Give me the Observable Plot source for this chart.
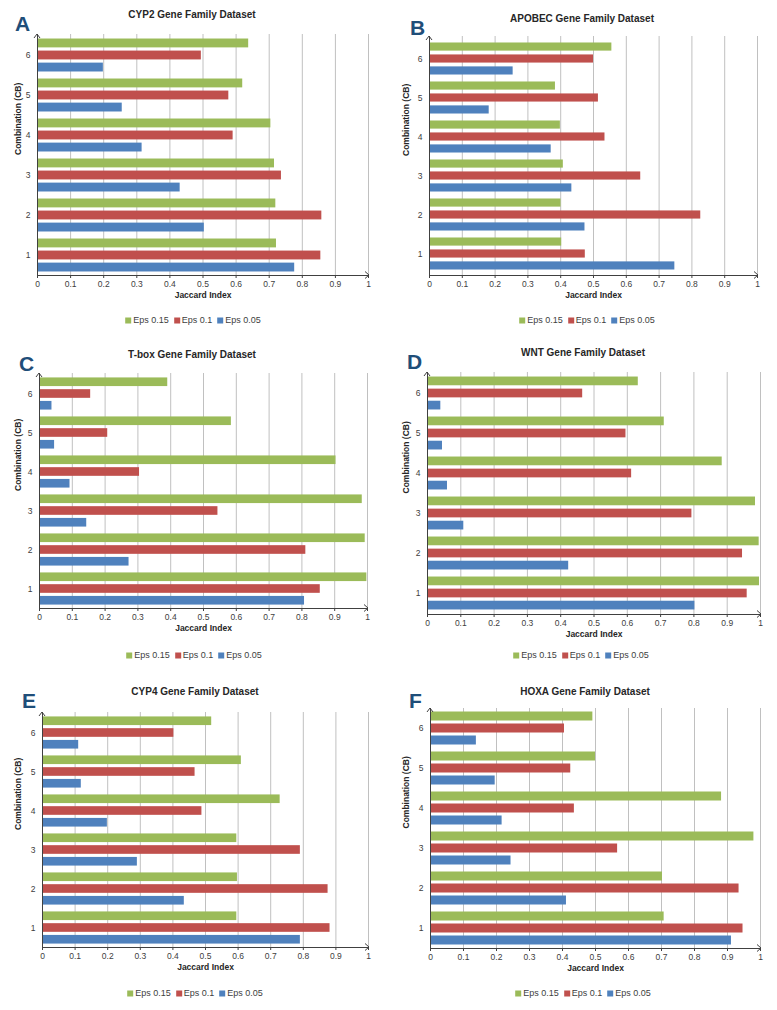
<!DOCTYPE html>
<html><head><meta charset="utf-8">
<script src="https://cdn.jsdelivr.net/npm/d3@7"></script>
<script src="https://cdn.jsdelivr.net/npm/@observablehq/plot@0.6"></script>
<style>
body{margin:0;background:#fff;font-family:"Liberation Sans",Arial,sans-serif;}
#root{position:relative;width:777px;height:1010px;overflow:hidden;background:#fff;}
.svgwrap{position:absolute;}
.title{position:absolute;font-weight:bold;font-size:10px;color:#262626;white-space:nowrap;line-height:1;transform:translate(-50%,-50%);}
.letter{position:absolute;font-weight:bold;font-size:21px;line-height:21px;color:#1F4E79;}
.legend{position:absolute;font-size:9px;line-height:1;color:#404040;display:flex;gap:5px;white-space:nowrap;transform:translate(-50%,-50%);align-items:center;}
.legend .item{display:flex;align-items:center;}
.sw{display:inline-block;width:6px;height:6px;margin-right:2px;}
</style></head><body><div id="root"></div>
<script>
// ---------- data ----------
const combos = [1, 2, 3, 4, 5, 6];
const seriesNames = ["Eps 0.15", "Eps 0.1", "Eps 0.05"];
const seriesColors = ["#9BBB59", "#C0504D", "#4F81BD"];
const xTicks = [0, 0.1, 0.2, 0.3, 0.4, 0.5, 0.6, 0.7, 0.8, 0.9, 1];
const panelLetters = ["A", "B", "C", "D", "E", "F"];
const panelTitles = [
  "CYP2 Gene Family Dataset", "APOBEC Gene Family Dataset",
  "T-box Gene Family Dataset", "WNT Gene Family Dataset",
  "CYP4 Gene Family Dataset", "HOXA Gene Family Dataset"
];
const xLabel = "Jaccard Index";
const yLabel = "Combination (CB)";

// Jaccard index for combinations 1..6
const cyp2Eps015 = [0.722, 0.720, 0.716, 0.705, 0.620, 0.638];
const cyp2Eps01  = [0.856, 0.859, 0.737, 0.591, 0.578, 0.495];
const cyp2Eps005 = [0.777, 0.504, 0.431, 0.316, 0.256, 0.199];

const apobecEps015 = [0.403, 0.401, 0.408, 0.399, 0.384, 0.556];
const apobecEps01  = [0.475, 0.827, 0.644, 0.535, 0.515, 0.500];
const apobecEps005 = [0.748, 0.474, 0.434, 0.371, 0.182, 0.255];

const tboxEps015 = [0.998, 0.993, 0.984, 0.904, 0.585, 0.391];
const tboxEps01  = [0.856, 0.812, 0.544, 0.305, 0.208, 0.156];
const tboxEps005 = [0.808, 0.273, 0.144, 0.093, 0.046, 0.038];

const wntEps015 = [0.997, 0.996, 0.985, 0.885, 0.711, 0.633];
const wntEps01  = [0.960, 0.946, 0.794, 0.613, 0.596, 0.466];
const wntEps005 = [0.803, 0.424, 0.109, 0.060, 0.045, 0.040];

const cyp4Eps015 = [0.596, 0.598, 0.596, 0.729, 0.610, 0.519];
const cyp4Eps01  = [0.882, 0.876, 0.791, 0.489, 0.468, 0.403];
const cyp4Eps005 = [0.791, 0.435, 0.291, 0.199, 0.119, 0.111];

const hoxaEps015 = [0.708, 0.703, 0.980, 0.882, 0.500, 0.492];
const hoxaEps01  = [0.947, 0.935, 0.567, 0.436, 0.425, 0.406];
const hoxaEps005 = [0.912, 0.412, 0.244, 0.217, 0.196, 0.139];

const panelValues = [
  [cyp2Eps015, cyp2Eps01, cyp2Eps005],
  [apobecEps015, apobecEps01, apobecEps005],
  [tboxEps015, tboxEps01, tboxEps005],
  [wntEps015, wntEps01, wntEps005],
  [cyp4Eps015, cyp4Eps01, cyp4Eps005],
  [hoxaEps015, hoxaEps01, hoxaEps005]
];

// ---------- layout (pixels) ----------
const layout = [
  {colX: 0,   colW: 388, left: 37,  right: 368, top: 34,  bottom: 275, titleX: 192, titleY: 15,  legendX: 193, legendY: 320, letterX: 15,  letterY: 13},
  {colX: 388, colW: 389, left: 429, right: 757, top: 36,  bottom: 275, titleX: 582, titleY: 19,  legendX: 587, legendY: 320, letterX: 410, letterY: 17},
  {colX: 0,   colW: 388, left: 39,  right: 367, top: 373, bottom: 608, titleX: 192, titleY: 355, legendX: 194, legendY: 655, letterX: 19,  letterY: 353},
  {colX: 388, colW: 389, left: 427, right: 760, top: 372, bottom: 614, titleX: 583, titleY: 353, legendX: 581, legendY: 655, letterX: 407, letterY: 351},
  {colX: 0,   colW: 388, left: 42,  right: 368, top: 712, bottom: 947, titleX: 195, titleY: 692, legendX: 195, legendY: 993, letterX: 22,  letterY: 690},
  {colX: 388, colW: 389, left: 430, right: 760, top: 708, bottom: 948, titleX: 585, titleY: 692, legendX: 583, legendY: 993, letterX: 409, letterY: 690}
];

const root = document.getElementById("root");

function renderPanel(i) {
  const L = layout[i];
  const rows = [];
  panelValues[i].forEach((vals, s) => vals.forEach((v, k) => rows.push({combo: combos[k], series: seriesNames[s], value: v})));

  const mt = 8, mb = 32;
  const width = L.colW;
  const height = L.bottom - L.top + mt + mb;
  const ml = L.left - L.colX, mr = L.colX + L.colW - L.right;
  const bh = (L.bottom - L.top) / combos.length;
  const outer = 0.0875 * bh, bar = 0.225 * bh, gap = 0.075 * bh;
  const insets = seriesNames.map((s, k) => {
    const t = outer + k * (bar + gap);
    return {insetTop: t, insetBottom: bh - t - bar};
  });

  const chart = Plot.plot({
    width, height,
    marginLeft: ml, marginRight: mr, marginTop: mt, marginBottom: mb,
    style: {fontFamily: "'Liberation Sans', Arial, sans-serif", fontSize: "8.5px", color: "#404040", background: "transparent", overflow: "visible"},
    x: {domain: [0, 1], ticks: xTicks, tickFormat: d => String(d), tickSize: 3, tickPadding: 2, label: null, line: true},
    y: {type: "band", domain: combos.slice().reverse(), padding: 0, tickSize: 0, tickPadding: 7, label: null},
    marks: [
      Plot.ruleX(xTicks.slice(1), {stroke: "#C0C0C0", strokeWidth: 1}),
      ...seriesNames.map((s, k) => Plot.barX(rows.filter(r => r.series === s), {
        x: "value", y: "combo", fill: seriesColors[k], ...insets[k]
      })),
      Plot.ruleX([0], {stroke: "#404040"}),
      Plot.text([xLabel], {text: d => d, frameAnchor: "bottom", dy: 22, fontWeight: "bold", fontSize: 8.5, fill: "#262626"}),
      Plot.text([yLabel], {text: d => d, frameAnchor: "left", rotate: -90, dx: -(ml - 18), fontWeight: "bold", fontSize: 8.5, fill: "#262626"})
    ]
  });

  // axis arrowheads
  const svgEl = chart.tagName.toLowerCase() === "svg" ? chart : chart.querySelector("svg");
  const sx = chart.scale("x");
  const x0 = sx.apply(0), x1 = sx.apply(1);
  const yb = height - mb;
  const svg = d3.select(svgEl);
  svg.append("path").attr("d", `M${x0 - 3},${mt + 4}L${x0},${mt}L${x0 + 3},${mt + 4}`)
    .attr("fill", "none").attr("stroke", "#404040").attr("stroke-width", 1);
  svg.append("path").attr("d", `M${x1 - 3},${yb - 3.5}L${x1 + 1},${yb}L${x1 - 3},${yb + 3.5}`)
    .attr("fill", "none").attr("stroke", "#404040").attr("stroke-width", 1);

  const wrap = document.createElement("div");
  wrap.className = "svgwrap";
  wrap.style.left = L.colX + "px";
  wrap.style.top = (L.top - mt) + "px";
  wrap.appendChild(chart);
  root.appendChild(wrap);

  const title = document.createElement("div");
  title.className = "title";
  title.textContent = panelTitles[i];
  title.style.left = L.titleX + "px";
  title.style.top = L.titleY + "px";
  root.appendChild(title);

  const letter = document.createElement("div");
  letter.className = "letter";
  letter.textContent = panelLetters[i];
  letter.style.left = L.letterX + "px";
  letter.style.top = L.letterY + "px";
  root.appendChild(letter);

  const legend = document.createElement("div");
  legend.className = "legend";
  legend.style.left = L.legendX + "px";
  legend.style.top = L.legendY + "px";
  seriesNames.forEach((s, k) => {
    const item = document.createElement("span");
    item.className = "item";
    const sw = document.createElement("span");
    sw.className = "sw";
    sw.style.background = seriesColors[k];
    item.appendChild(sw);
    item.appendChild(document.createTextNode(s));
    legend.appendChild(item);
  });
  root.appendChild(legend);
}

for (let i = 0; i < panelTitles.length; i++) renderPanel(i);
</script>
</body></html>
